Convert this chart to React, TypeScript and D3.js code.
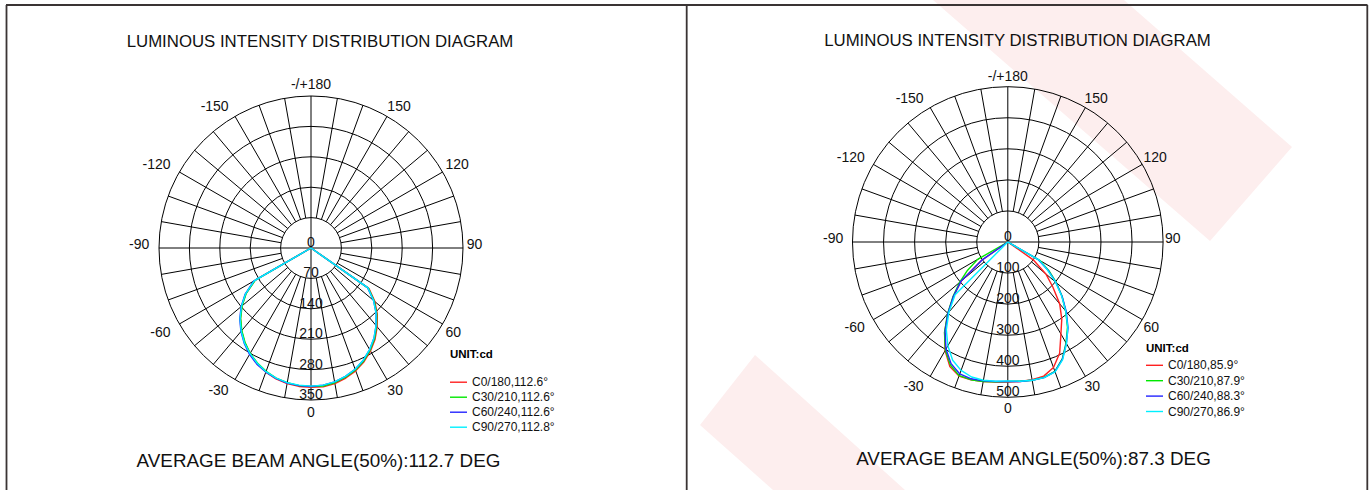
import React from 'react';
import * as d3 from 'd3';

// ---------- data ----------
const GAMMA = [0, 5, 10, 15, 20, 25, 30, 35, 40, 45, 50, 55, 60, 65, 70, 75, 80, 85, 90];

const LEFT_RING_TICKS = [0, 70, 140, 210, 280, 350];
const RIGHT_RING_TICKS = [0, 100, 200, 300, 400, 500];
const ANGLE_TICKS = [-150, -120, -90, -60, -30, 0, 30, 60, 90, 120, 150, 180];

const SERIES_NAMES = ['C0/180', 'C30/210', 'C60/240', 'C90/270'];
const SERIES_COLORS = ['#ff2020', '#00e800', '#2424ff', '#00f0ff'];

const LEFT_BEAM = ['112.6', '112.6', '112.6', '112.8'];
const RIGHT_BEAM = ['85.9', '87.9', '88.3', '86.9'];

// left diagram (cd), negative side then positive side, gamma 0..90
const L_C0_NEG = [321, 320, 317, 312, 304, 294, 281, 266, 249, 230, 208, 183, 149, 0, 0, 0, 0, 0, 0];
const L_C0_POS = [322, 321, 317, 310, 301, 289, 274, 257, 237, 216, 192, 163, 0, 0, 0, 0, 0, 0, 0];
const L_C30_NEG = [319, 318, 315, 310, 302, 292, 280, 265, 248, 229, 207, 182, 148, 0, 0, 0, 0, 0, 0];
const L_C30_POS = [320, 319, 315, 308, 299, 287, 272, 255, 235, 214, 190, 161, 0, 0, 0, 0, 0, 0, 0];
const L_C60_NEG = [319, 318, 316, 311, 304, 295, 283, 268, 251, 232, 210, 185, 152, 0, 0, 0, 0, 0, 0];
const L_C60_POS = [318, 317, 313, 306, 297, 285, 270, 253, 233, 212, 188, 159, 0, 0, 0, 0, 0, 0, 0];
const L_C90_NEG = [318, 317, 315, 310, 303, 293, 281, 267, 250, 231, 209, 184, 151, 0, 0, 0, 0, 0, 0];
const L_C90_POS = [318, 317, 313, 306, 297, 285, 270, 253, 233, 212, 188, 160, 0, 0, 0, 0, 0, 0, 0];

// right diagram (cd)
const R_C0_NEG = [451, 453, 456, 459, 459, 442, 404, 355, 300, 247, 196, 104, 0, 0, 0, 0, 0, 0, 0];
const R_C0_POS = [450, 451, 450, 447, 430, 395, 342, 303, 260, 205, 160, 100, 0, 0, 0, 0, 0, 0, 0];
const R_C30_NEG = [449, 452, 456, 459, 458, 437, 402, 355, 302, 250, 203, 158, 112, 0, 0, 0, 0, 0, 0];
const R_C30_POS = [448, 450, 452, 451, 443, 415, 375, 335, 290, 247, 204, 162, 120, 0, 0, 0, 0, 0, 0];
const R_C60_NEG = [449, 451, 454, 456, 452, 432, 398, 352, 300, 248, 197, 102, 0, 0, 0, 0, 0, 0, 0];
const R_C60_POS = [449, 451, 452, 452, 444, 416, 377, 338, 293, 247, 202, 158, 112, 0, 0, 0, 0, 0, 0];
const R_C90_NEG = [447, 450, 452, 450, 440, 420, 386, 345, 295, 240, 0, 0, 0, 0, 0, 0, 0, 0, 0];
const R_C90_POS = [447, 450, 452, 452, 445, 418, 378, 337, 290, 245, 200, 155, 118, 0, 0, 0, 0, 0, 0];

const LEFT_DATA = [
  [L_C0_NEG, L_C0_POS],
  [L_C30_NEG, L_C30_POS],
  [L_C60_NEG, L_C60_POS],
  [L_C90_NEG, L_C90_POS],
];
const RIGHT_DATA = [
  [R_C0_NEG, R_C0_POS],
  [R_C30_NEG, R_C30_POS],
  [R_C60_NEG, R_C60_POS],
  [R_C90_NEG, R_C90_POS],
];

const TITLE = 'LUMINOUS INTENSITY DISTRIBUTION DIAGRAM';
const LEFT_AVG = 'AVERAGE BEAM ANGLE(50%):112.7 DEG';
const RIGHT_AVG = 'AVERAGE BEAM ANGLE(50%):87.3 DEG';

// ---------- layout ----------
const W = 1372;
const H = 490;
const FONT = '"Liberation Sans", Arial, Helvetica, sans-serif';
const WATERMARK = '#fdeeee';
const LABEL_FS = 14;
const CAP = 10;

const PANELS = [
  {
    cx: 311, cy: 248, R: 152, ticks: LEFT_RING_TICKS, data: LEFT_DATA, beams: LEFT_BEAM,
    titleX: 320, titleY: 47, avg: LEFT_AVG, avgX: 318.5, avgY: 466.5,
    labGap: 6.7, labDx: -3,
    legX: 450, legUnitY: 358, legY0: 382.2, legDy: 15,
  },
  {
    cx: 1007.8, cy: 242, R: 155.3, ticks: RIGHT_RING_TICKS, data: RIGHT_DATA, beams: RIGHT_BEAM,
    titleX: 1017.5, titleY: 46, avg: RIGHT_AVG, avgX: 1033.5, avgY: 465,
    labGap: 5.6, labDx: -3.7,
    legX: 1146, legUnitY: 352, legY0: 365.3, legDy: 15.4,
  },
];

const toRad = (d: number) => (d * Math.PI) / 180;

function Polar({ p }: { p: (typeof PANELS)[number] }) {
  const max = p.ticks[p.ticks.length - 1];
  const r = d3.scaleLinear().domain([0, max]).range([0, p.R]);
  const r1 = r(p.ticks[1]);
  const spokes = d3.range(0, 360, 10);
  const line = d3
    .lineRadial<[number, number]>()
    .angle((d) => Math.PI - toRad(d[0]))
    .radius((d) => r(d[1]))
    .curve(d3.curveLinear);
  const G = p.R + p.labGap;

  return (
    <g>
      <text x={p.titleX} y={p.titleY} textAnchor="middle" fontSize={16.8} fontFamily={FONT} fill="#111">
        {TITLE}
      </text>
      <g transform={`translate(${p.cx},${p.cy})`}>
        {p.ticks.slice(1).map((t) => (
          <circle key={t} r={r(t)} fill="none" stroke="#000" strokeWidth={1} />
        ))}
        {spokes.map((a) => {
          const full = a % 90 === 0;
          const a0 = full ? 0 : r1;
          const rad = toRad(a);
          return (
            <line
              key={a}
              x1={a0 * Math.sin(rad)}
              y1={a0 * Math.cos(rad)}
              x2={p.R * Math.sin(rad)}
              y2={p.R * Math.cos(rad)}
              stroke="#000"
              strokeWidth={1}
            />
          );
        })}
        {p.data.map((s, i) => {
          const pts: [number, number][] = [];
          for (let k = GAMMA.length - 1; k >= 0; k--) pts.push([-GAMMA[k], s[0][k]]);
          for (let k = 1; k < GAMMA.length; k++) pts.push([GAMMA[k], s[1][k]]);
          return (
            <path key={i} d={line(pts) || ''} fill="none" stroke={SERIES_COLORS[i]} strokeWidth={1.4} strokeLinejoin="round" />
          );
        })}
        {p.ticks.map((t) => (
          <text key={t} x={0} y={r(t) - 1} textAnchor="middle" fontSize={LABEL_FS} fontFamily={FONT} fill="#111">
            {t}
          </text>
        ))}
        {ANGLE_TICKS.map((a) => {
          const rad = toRad(a);
          const s = Math.sin(rad);
          const c = Math.cos(rad);
          const eps = 1e-6;
          const anchor = s > eps ? 'start' : s < -eps ? 'end' : 'middle';
          const x = G * s + (Math.abs(s) > eps ? p.labDx : 0);
          const y = c > eps ? G * c + CAP : G * c + (Math.abs(c) <= eps ? 1 : 0);
          return (
            <text key={a} x={x} y={y} textAnchor={anchor} fontSize={LABEL_FS} fontFamily={FONT} fill="#111">
              {a === 180 ? '-/+180' : a}
            </text>
          );
        })}
      </g>
      <text x={p.legX} y={p.legUnitY} fontSize={11.5} fontWeight="bold" fontFamily={FONT} fill="#000">
        UNIT:cd
      </text>
      {SERIES_NAMES.map((n, i) => {
        const y = p.legY0 + i * p.legDy;
        return (
          <g key={n}>
            <line x1={p.legX} x2={p.legX + 17} y1={y} y2={y} stroke={SERIES_COLORS[i]} strokeWidth={1.4} />
            <text x={p.legX + 22} y={y + 4} fontSize={12} fontFamily={FONT} fill="#111">
              {`${n},${p.beams[i]}°`}
            </text>
          </g>
        );
      })}
      <text x={p.avgX} y={p.avgY} textAnchor="middle" fontSize={18.85} fontFamily={FONT} fill="#111">
        {p.avg}
      </text>
    </g>
  );
}

export default function App() {
  return (
    <svg
      width={W}
      height={H}
      viewBox={`0 0 ${W} ${H}`}
      style={{ position: 'absolute', left: 0, top: 0, background: '#fff' }}
    >
      <rect x={0} y={0} width={W} height={H} fill="#fff" />
      {/* faint watermark */}
      <g fill={WATERMARK}>
        <polygon points="933,0 1124,0 1292,147 1210,241" />
        <polygon points="755,355 905,490 773,490 700,425" />
      </g>
      {/* frame */}
      <g stroke="#3a3434" strokeWidth={1.8} fill="none">
        <line x1={6} x2={1367.5} y1={5} y2={5} />
        <line x1={6.5} x2={6.5} y1={5} y2={H} />
        <line x1={686.7} x2={686.7} y1={5} y2={H} />
        <line x1={1367.3} x2={1367.3} y1={5} y2={H} />
      </g>
      {PANELS.map((p, i) => (
        <Polar key={i} p={p} />
      ))}
    </svg>
  );
}
